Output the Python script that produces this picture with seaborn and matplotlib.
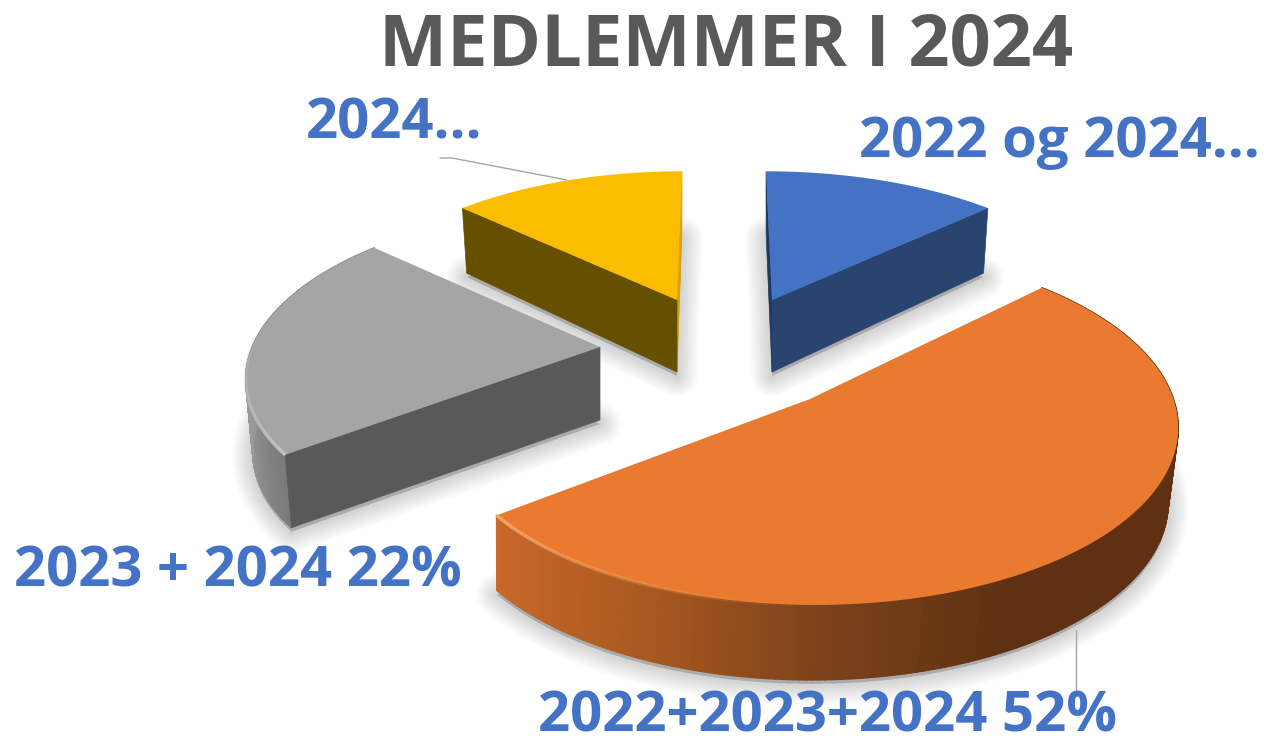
import numpy as np
import matplotlib
matplotlib.use("Agg")
import matplotlib.pyplot as plt
from matplotlib.collections import PolyCollection, LineCollection
from matplotlib.colors import to_rgba
import seaborn as sns

# ---- data ----
title_text = "MEDLEMMER I 2024"
categories = ["2022 og 2024…", "2022+2023+2024 52%", "2023 + 2024 22%", "2024…"]
values = [13, 52, 22, 13]
top_colors = ["#4472C4", "#E97A30", "#A5A5A5", "#FBBD00"]
cut_colors = ["#28446F", "#7A3F16", "#595959", "#674F00"]
strip_colors = ["#1F3864", None, None, "#D9A400"]
rim_stops = [None,
             ["#C8682A", "#A4561F", "#7A411A", "#5F3112", "#5F3112"],
             ["#7A7A7A", "#9C9C9C", "#8C8C8C", "#8C8C8C"],
             None]

# ---- projection of each exploded slice: apex, radii, shear, thickness ----
views = [dict(c=(772, 300), rx=333, ry=148, sx=6.9, sy=0, d=72, x0=772, shrink=0.98),
         dict(c=(810, 399), rx=362, ry=175, sx=12, sy=-4, d=75, x0=510, shrink=0.985),
         dict(c=(600, 347), rx=349, ry=163, sx=-8, sy=-3, d=73, x0=600, shrink=0.98),
         dict(c=(677, 300), rx=330, ry=148, sx=-5.75, sy=0, d=72, x0=677, shrink=0.98)]
PERSP = 0.15
BACK_THIN = 0.14

sns.set_theme(style="white")
plt.rcParams["font.family"] = ["Open Sans", "DejaVu Sans"]

fig = plt.figure(figsize=(12.64, 7.44), dpi=100)
ax = fig.add_axes([0, 0, 1, 1])
ax.set_xlim(0, 1264)
ax.set_ylim(744, 0)
ax.axis("off")


def project(view, theta):
    u, v = np.sin(theta), -np.cos(theta)
    w = 1 - PERSP * v
    x = view["c"][0] + (view["rx"] * u + view["sx"] * v) / w
    y = view["c"][1] + (view["ry"] * v + view["sy"] * u) / w
    return np.column_stack([x, y])


def drop(view, theta, pts):
    """Lower edge of the slice below the given top-face points."""
    v = -np.cos(theta)
    depth = view["d"] * (1 + BACK_THIN * np.minimum(v, 0))
    out = pts.copy()
    out[:, 0] = view["x0"] + (pts[:, 0] - view["x0"]) * view["shrink"]
    out[:, 1] += depth
    return out


edges = np.deg2rad(np.concatenate([[0], np.cumsum(values)]) * 3.6)
main_cut = {0: -1, 2: 0, 3: 0}
strip_end = {0: 0, 3: -1}

for i in [0, 3, 2, 1]:
    view = views[i]
    th = np.linspace(edges[i], edges[i + 1], 220)
    arc = project(view, th)
    low = drop(view, th, arc)
    apex = np.array(view["c"], dtype=float)
    apex_low = apex + [0, view["d"]]
    top = np.vstack([apex, arc])
    floor = np.vstack([apex_low, low])

    # soft shadow around the underside of the slice
    for lw in np.linspace(4, 30, 14):
        ax.fill(floor[:, 0], floor[:, 1] + 4, facecolor=(0, 0, 0, 0.011), edgecolor=(0, 0, 0, 0.011),
                lw=lw, joinstyle="round", zorder=1)

    # rim
    if rim_stops[i] is not None:
        n = len(arc) - 1
        pal = sns.blend_palette(rim_stops[i], n_colors=n)
        if i == 1:
            span = arc[:, 0].max() - arc[:, 0].min()
            idx = ((arc[:-1, 0] - arc[:, 0].min()) / span * (n - 1)).astype(int)
            pal = [pal[k] for k in idx]
        quads = [np.vstack([arc[k], arc[k + 1], low[k + 1], low[k]]) for k in range(n)]
        ax.add_collection(PolyCollection(quads, facecolors=pal, edgecolors=pal, linewidths=1.0, zorder=2 + i))

    # straight cut faces
    if i in main_cut:
        k = main_cut[i]
        cut = np.vstack([apex, arc[k], low[k], apex_low])
        ax.fill(cut[:, 0], cut[:, 1], color=cut_colors[i], lw=0.5, zorder=2.5 + i)
    if i in strip_end:
        k = strip_end[i]
        cut = np.vstack([arc[k], apex, apex_low, low[k]])
        ax.fill(cut[:, 0], cut[:, 1], color=strip_colors[i], lw=0.5, zorder=2.3 + i)

    # top face
    ax.fill(top[:, 0], top[:, 1], color=top_colors[i], lw=0, zorder=3 + i)

    # bevel highlight
    segs = [arc[k:k + 2] for k in range(len(arc) - 1)]
    if i == 1:
        alphas = np.clip((np.linspace(0, 1, len(segs)) - 0.7) / 0.3, 0, 1) ** 1.5
        rgba = [to_rgba("#F8A566", a) for a in alphas]
        ax.add_collection(LineCollection(segs, colors=rgba, linewidths=2.5, zorder=3.2 + i))
    if i == 2:
        alphas = np.clip(1 - np.linspace(0, 1, len(segs)) / 0.55, 0, 1)
        rgba = [to_rgba("#C8C8C8", a) for a in alphas]
        ax.add_collection(LineCollection(segs, colors=rgba, linewidths=2.5, zorder=3.2 + i))

# ---- leader lines ----
ax.plot([440, 452, 567], [158, 158, 180], color="#A6A6A6", lw=1, zorder=10)
ax.plot([1076, 1076], [630, 692], color="#A6A6A6", lw=1, zorder=10)

# ---- text ----
ax.text(726, 47, title_text, ha="center", va="center", fontsize=52, fontweight="bold", color="#595959", zorder=12)
label_pos = [(1059, 143), (828, 717), (238, 572), (394, 124)]
for cat, (x, y) in zip(categories, label_pos):
    ax.text(x, y, cat, ha="center", va="center", fontsize=40.5, fontweight="bold", color="#4472C4", zorder=12)

fig.savefig("out.png", dpi=100, facecolor="white")
